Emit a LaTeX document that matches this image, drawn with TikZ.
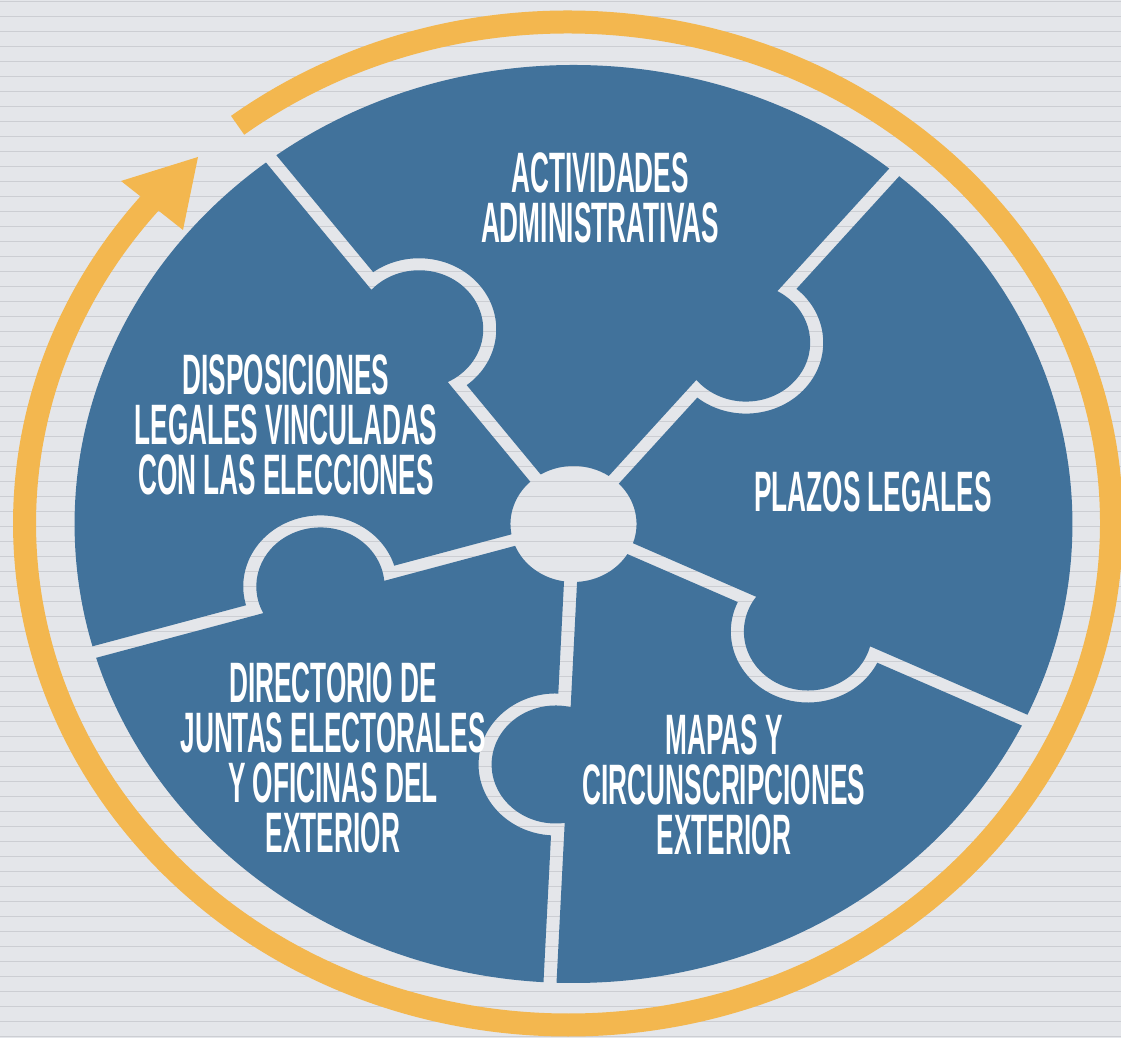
\documentclass[tikz,border=0pt]{standalone}
\usepackage{fontspec}
\newfontfamily\cond{Liberation Sans}[FakeStretch=0.46]
\definecolor{bgc}{HTML}{E4E6EA}
\definecolor{stripec}{HTML}{CCCED3}
\definecolor{discblue}{HTML}{41729B}
\definecolor{ringorange}{HTML}{F3B74F}
\tikzset{
  lbl/.style={text=white, font=\cond\bfseries\fontsize{57}{50}\selectfont, align=center, inner sep=0pt, anchor=north}
}
\begin{document}
\begin{tikzpicture}[x=1pt,y=1pt]
\useasboundingbox (0,0) rectangle (1121,1038);
\fill[bgc] (0,0) rectangle (1121,1038);
\foreach \i in {0,...,69}
  \fill[stripec] (0,{1038-1.7-15*\i-0.8}) rectangle (1121,{1038-1.7-15*\i+0.8});
% orange ring with arrow
\draw[ringorange, line width=23] (568,514.5) ++(127.44:543.5 and 501.5)
  arc[start angle=127.44, end angle=-222, x radius=543.5, y radius=501.5];
\fill[ringorange] (121,857) -- (198,881) -- (183,808) -- cycle;
% puzzle disc
\begin{scope}[shift={(573.5,514)}, xscale=1.087]
  \begin{scope}
    \clip (0,0) circle[radius=459];
    \fill[discblue, even odd rule] (-700,-700) rectangle (700,700)
      (-98.64:58)
      \foreach \t/\n in {-92.7/-25.3, -25.3/50, 50/127.3, 127.3/196.2, 196.2/267.3}{
        -- ({\t+atan2(-6,170.007)}:{veclen(170.007,6)})
        arc[start angle={\t-179.193}, end angle={\t-0.807}, radius=71]
        -- ({\t+atan2(-6,560)}:{veclen(560,6)})
        -- ({\t+atan2(6,560)}:{veclen(560,6)})
        -- ({\t+atan2(6,298.966)}:{veclen(298.966,6)})
        arc[start angle={\t+10.745}, end angle={\t-190.745}, radius=59]
        -- ({\t+5.94}:58)
        arc[start angle={\t+5.94}, end angle={\n-5.94}, radius=58]
      } -- cycle;
  \end{scope}
\end{scope}
% labels
\node[lbl] (act) at (600,885) {ACTIVIDADES\\ADMINISTRATIVAS};
\node[lbl] (disp) at (286,683) {DISPOSICIONES\\LEGALES VINCULADAS\\CON LAS ELECCIONES};
\node[lbl] (plaz) at (873,566) {PLAZOS LEGALES};
\node[lbl] (dir) at (333,375) {DIRECTORIO DE\\JUNTAS ELECTORALES\\Y OFICINAS DEL\\EXTERIOR};
\node[lbl] (mapa) at (724,323) {MAPAS Y\\CIRCUNSCRIPCIONES\\EXTERIOR};
\end{tikzpicture}
\end{document}
